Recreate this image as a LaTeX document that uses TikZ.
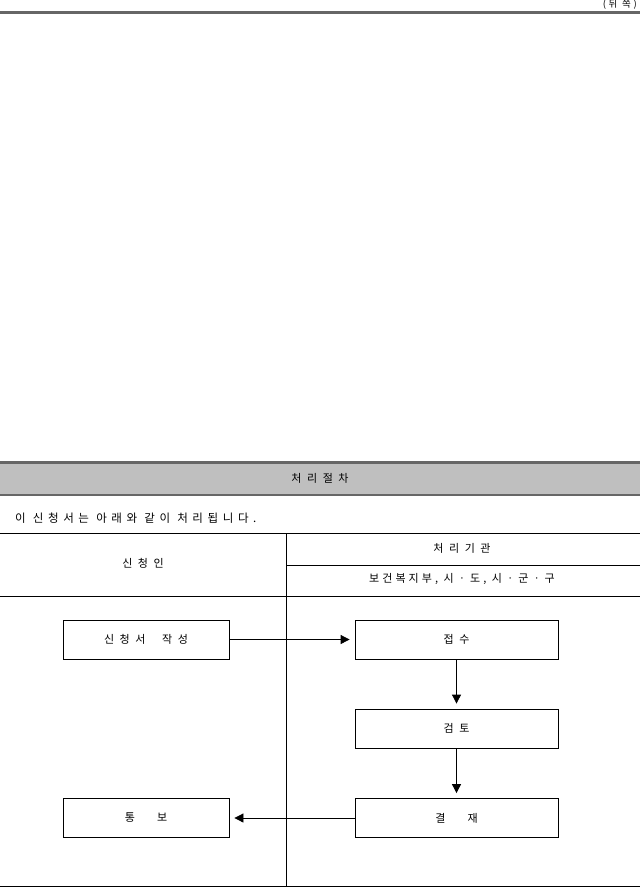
\documentclass[tikz,border=0pt]{standalone}
\usepackage{fontspec}
\setmainfont[LetterSpace=28]{Noto Sans CJK KR}
\newfontfamily\widekr[LetterSpace=40]{Noto Sans CJK KR}
\usetikzlibrary{arrows.meta}
\begin{document}
\begin{tikzpicture}[x=1pt,y=-1pt,
  every node/.style={font=\fontsize{11}{13}\selectfont, inner sep=0pt},
  procbox/.style={draw=black, line width=0.8pt, minimum width=166pt, minimum height=39pt},
  procboxr/.style={draw=black, line width=0.8pt, minimum width=203pt, minimum height=39pt},
  flow/.style={draw=black, line width=0.8pt, -{Triangle[length=9pt,width=9pt]}, shorten >=5pt},
  rule/.style={draw=black, line width=0.8pt}]
\useasboundingbox (0,0) rectangle (640,888);
% top
\node[anchor=north east, font=\fontsize{9.5}{10}\selectfont] (side) at (637,-1) {(뒤 쪽)};
\draw[line width=3pt, draw=black!60] (0,13) -- (640,13);
% header band
\fill[black!25] (0,462) rectangle (640,495);
\draw[line width=3pt, draw=black!60] (0,462) -- (640,462);
\draw[line width=1.2pt, draw=black!60] (0,495) -- (640,495);
\node (title) at (320,478) {처 리 절 차};
\node[anchor=west, font=\widekr\fontsize{11.5}{13}\selectfont] (intro) at (15,518) {이 신청서는 아래와 같이 처리됩니다.};
% table
\draw[rule] (0,533) -- (640,533);
\draw[rule] (286,565) -- (640,565);
\draw[rule] (0,596) -- (640,596);
\draw[rule] (0,886) -- (640,886);
\draw[rule] (286,533) -- (286,886);
\node (applicant) at (143,563) {신 청 인};
\node (agency) at (462,548) {처 리 기 관};
\node (agencies) at (462,579) {보건복지부, 시ㆍ도, 시ㆍ군ㆍ구};
% boxes
\node[procbox] (write) at (146,639.5) {신 청 서 \ \ 작 성};
\node[procboxr] (receive) at (456.5,639.5) {접 수};
\node[procboxr] (review) at (456.5,728.5) {검 토};
\node[procboxr] (approve) at (456.5,818) {결 \ \ \ 재};
\node[procbox] (notify) at (146,818) {통 \ \ \ 보};
% arrows
\draw[flow] (write) -- (receive);
\draw[flow] (receive) -- (review);
\draw[flow] (review) -- (approve);
\draw[flow] (approve) -- (notify);
\end{tikzpicture}
\end{document}
